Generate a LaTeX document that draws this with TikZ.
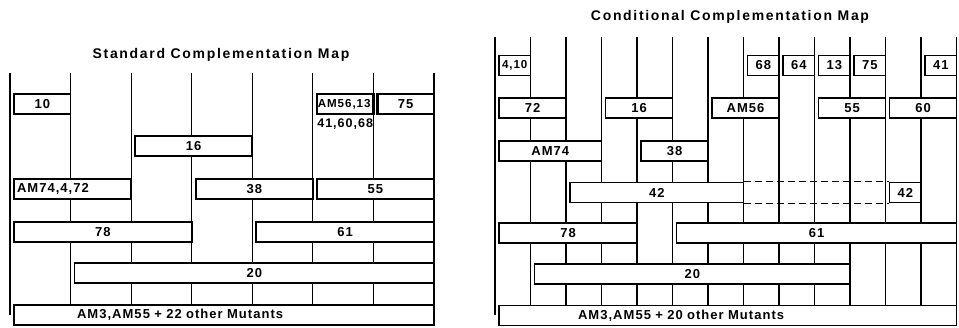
\documentclass[tikz,border=0pt]{standalone}
\usepackage{fontspec}
\setmainfont{Liberation Sans}
\newfontfamily\letterfont[LetterSpace=8]{Liberation Sans}
\newfontfamily\titlefont[LetterSpace=12]{Liberation Sans}
\usetikzlibrary{positioning}

\tikzset{
  grid line/.style={line width=1.1pt},
  mutbox/.style={draw, line width=1.7pt, fill=white, minimum height=20pt,
    inner xsep=3pt, inner ysep=0pt, align=center,
    font=\letterfont\bfseries\fontsize{13}{14}\selectfont},
  heavy/.style={line width=2.4pt},
  tight/.style={font=\letterfont\bfseries\fontsize{11.6}{12}\selectfont},
  label text/.style={inner sep=1pt, font=\letterfont\bfseries\fontsize{12.5}{13}\selectfont},
  maptitle/.style={font=\titlefont\bfseries\fontsize{14}{16}\selectfont},
}

% bar from column #3 to column #4 of the current map, at height #5
\newcommand\mutseg[6][]{%
  \pgfmathsetmacro\segl{\mapx+#3*\mapw+4}%
  \pgfmathsetmacro\segr{\mapx+#4*\mapw}%
  \pgfmathsetmacro\segt{\segr-\segl-6}%
  \node[mutbox, text width=\segt pt, #1] (#2) at ({(\segl+\segr)/2},#5) {#6};}

\begin{document}
\begin{tikzpicture}[x=1pt, y=-1pt]
    \useasboundingbox (0,0) rectangle (959,327);

    % Standard map
    \node[maptitle] (ltitle) at (221,55) {Standard Complementation Map};
    \def\mapx{10}\def\mapw{60.57}
    \foreach \k in {0,...,7}
        \draw[grid line] (\mapx+\k*\mapw,73) -- (\mapx+\k*\mapw,315);

    \mutseg{l10}{0}{1}{104}{10}
    \mutseg[heavy, tight]{lam56}{5}{6}{104}{\hspace*{-2pt}AM56,13}
    \mutseg[heavy]{l75}{6}{7}{104}{75}
    \node[label text, below=2pt of lam56] (lam56b) {41,60,68};

    \mutseg{l16}{2}{4}{146}{16}

    \mutseg[align=left]{lam74}{0}{2}{189}{AM74,4,72}
    \mutseg{l38}{3}{5}{189}{38}
    \mutseg{l55}{5}{7}{189}{55}

    \mutseg{l78}{0}{3}{232}{78}
    \mutseg{l61}{4}{7}{232}{61}

    \mutseg{l20}{1}{7}{273}{20}

    \mutseg[align=left]{lam3}{0}{7}{315}{\hspace*{60pt}AM3,AM55 + 22 other Mutants}

    % Conditional map
    \node[maptitle] (rtitle) at (730,17) {Conditional Complementation Map};
    \def\mapx{495}\def\mapw{35.5}
    \foreach \k in {0,...,13}
        \draw[grid line] (\mapx+\k*\mapw,37) -- (\mapx+\k*\mapw,315);

    \mutseg[tight]{r410}{0}{1}{65.5}{4,10}
    \mutseg{r68}{7}{8}{65.5}{68}
    \mutseg{r64}{8}{9}{65.5}{64}
    \mutseg{r13}{9}{10}{65.5}{13}
    \mutseg{r75}{10}{11}{65.5}{75}
    \mutseg{r41}{12}{13}{65.5}{41}

    \mutseg{r72}{0}{2}{108}{72}
    \mutseg{r16}{3}{5}{108}{16}
    \mutseg{ram56}{6}{8}{108}{AM56}
    \mutseg{r55}{9}{11}{108}{55}
    \mutseg{r60}{11}{13}{108}{60}

    \mutseg{ram74}{0}{3}{151}{AM74}
    \mutseg{r38}{4}{6}{151}{38}

    \mutseg{r42a}{2}{7}{192.5}{42}
    \mutseg{r42b}{11}{12}{192.5}{42}
    \draw[line width=1.4pt, dash pattern=on 7pt off 4pt] (r42a.north east) -- (r42b.north west);
    \draw[line width=1.4pt, dash pattern=on 7pt off 4pt] (r42a.south east) -- (r42b.south west);

    \mutseg{r78}{0}{4}{233}{78}
    \mutseg{r61}{5}{13}{233}{61}

    \mutseg{r20}{1}{10}{274}{20}

    \mutseg[align=left]{ram3}{0}{13}{315.5}{\hspace*{76pt}AM3,AM55 + 20 other Mutants}
\end{tikzpicture}
\end{document}
